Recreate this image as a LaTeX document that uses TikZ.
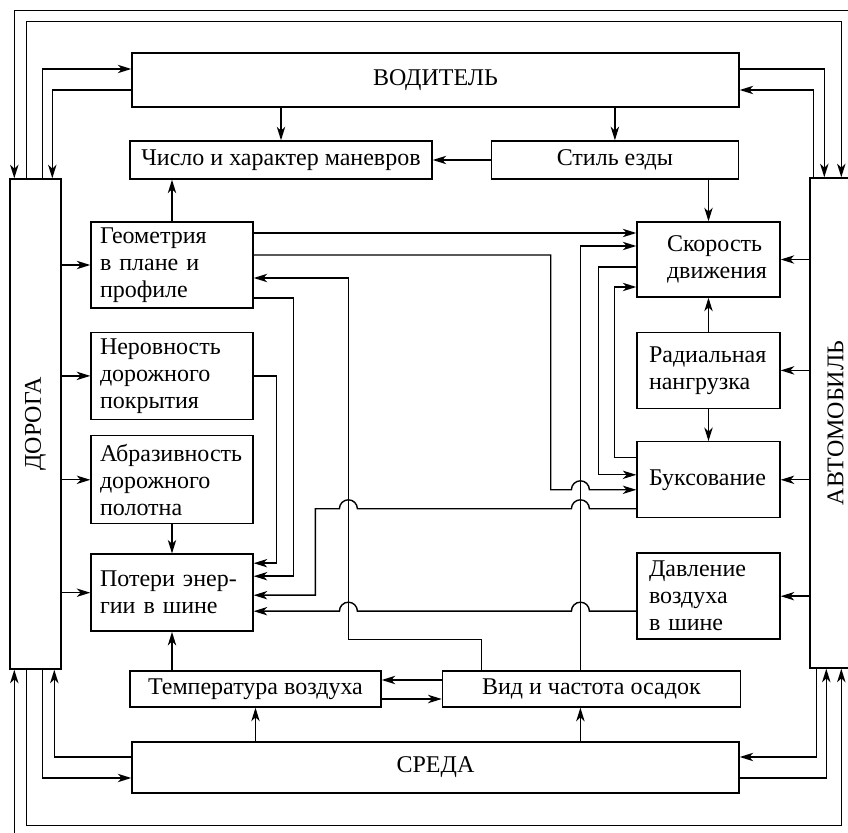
\documentclass[tikz,border=0pt]{standalone}
\usepackage{fontspec}
\setmainfont{Liberation Serif}
\usetikzlibrary{arrows.meta,calc,positioning}

\begin{document}
\begin{tikzpicture}[
    x=0.5pt, y=0.5pt,
    font=\fontsize{12}{13.5}\selectfont,
    line width=0.7pt,
    widebox/.style={draw, align=center, inner sep=2pt},
    leftbox/.style={draw, align=left, text width=72pt, inner xsep=4.5pt, inner ysep=1pt},
    rightbox/.style={draw, align=left, text width=59.5pt, inner xsep=6pt, inner ysep=1pt},
    sidebox/.style={draw, minimum width=25.5pt, minimum height=245pt, inner sep=0pt},
    arrow/.style={-{Stealth[length=6.8pt,width=4.2pt,inset=2pt]}}
]
\useasboundingbox (0,0) rectangle (848,832);
\clip (0,0) rectangle (848,832);

% Driver and environment
\node[widebox, minimum width=303.5pt, minimum height=27pt] (drv) at (435.5,752) {ВОДИТЕЛЬ};
\node[widebox, minimum width=151pt, minimum height=19pt] (num) at (281,672) {Число и характер маневров};
\node[widebox, minimum width=123.5pt, minimum height=19pt, right=29pt of num] (style) {Стиль езды};
\node[widebox, minimum width=125.5pt, minimum height=18pt] (temp) at (255.5,143) {Температура воздуха};
\node[widebox, minimum width=149pt, minimum height=18pt, right=30pt of temp] (rain) {Вид и частота осадок};
\node[widebox, minimum width=303.5pt, minimum height=25.5pt] (env) at (435.5,64.5) {СРЕДА};

% Road and car
\node[sidebox] (road) at (35.5,408) {\rotatebox{90}{ДОРОГА}};
\node[sidebox] (car) at (835.5,409) {\rotatebox{90}{АВТОМОБИЛЬ}};

% Road factors
\node[leftbox, minimum height=43pt] (geo) at (172,567) {Геометрия\\в плане и\\профиле};
\node[leftbox, minimum height=43.5pt, below=11.5pt of geo] (rough) {Неровность\\дорожного\\покрытия};
\node[leftbox, minimum height=44pt, below=7.5pt of rough] (abr) {Абразивность\\дорожного\\полотна};
\node[leftbox, minimum height=38.5pt, below=14.5pt of abr] (loss) {Потери энер-\\гии в шине};

% Car factors
\node[rightbox, minimum height=37.5pt] (speed) at (708.5,572.5) {\hspace*{9pt}Скорость\\\hspace*{9pt}движения};
\node[rightbox, minimum height=38pt, below=17pt of speed] (rad) {Радиальная\\нангрузка};
\node[rightbox, minimum height=38pt, below=16pt of rad] (slip) {Буксование};
\node[rightbox, minimum height=43pt, below=17pt of slip] (press) {Давление\\воздуха\\в шине};

% driver links
\draw[arrow] (num.north |- drv.south) -- (num.north);
\draw[arrow] (style.north |- drv.south) -- (style.north);
\draw[arrow] (style.west) -- (num.east);
\draw[arrow] (speed.north |- style.south) -- (speed.north);
\draw[arrow] (geo.north) -- (geo.north |- num.south);

% road and car inputs
\foreach \n in {geo,rough,abr,loss}
  \draw[arrow] (road.east |- \n.west) -- (\n.west);
\foreach \n in {speed,rad,slip,press}
  \draw[arrow] (car.west |- \n.east) -- (\n.east);

\draw[arrow] (abr.south) -- (loss.north);
\draw[arrow] (temp.north -| loss.south) -- (loss.south);
\draw[arrow] (env.north -| temp.south) -- (temp.south);
\draw[arrow] (rad.north) -- (speed.south);
\draw[arrow] (rad.south) -- (slip.north);

% precipitation
\coordinate (rg) at ($(rain.north)+(-110,0)$);
\coordinate (rs) at ($(rain.north)+(-11,0)$);
\coordinate (rv) at ($(rg)+(-133,31)$);
\draw[arrow] (env.north -| rs) -- (rs |- rain.south);
\draw[arrow] ($(rain.west)+(0,9)$) -- ($(temp.east)+(0,9)$);
\draw[arrow] ($(temp.east)+(0,-10)$) -- ($(rain.west)+(0,-10)$);
\draw[arrow] (rg) |- (rv) |- ($(geo.east)+(0,-13)$);
\draw[arrow] (rs) |- ($(speed.west)+(0,13.5)$);

% geometry
\draw[arrow] ($(geo.east)+(0,32)$) -- ($(speed.west)+(0,26.5)$);
\draw[arrow] ($(geo.east)+(0,10)$) -- ++(297,0) |- ($(rs |- slip.west)+(-9,-10)$)
    arc[start angle=180, end angle=0, radius=4.5pt] -- ($(slip.west)+(0,-10)$);
\draw[arrow] ($(geo.east)+(0,-33)$) -- ++(40,0) |- ($(loss.east)+(0,16.5)$);
\draw[arrow] (rough.east) -- ++(23,0) |- ($(loss.east)+(0,29.5)$);

% slip loops
\draw[arrow] ($(speed.west)+(0,-7.5)$) -- ++(-38,0) |- ($(slip.west)+(0,5)$);
\draw[arrow] ($(slip.west)+(0,22)$) -- ++(-22,0) |- ($(speed.west)+(0,-27.5)$);
\draw[arrow] ($(slip.west)+(0,-29)$) -- ($(rs |- slip.west)+(9,-29)$)
    arc[start angle=0, end angle=180, radius=4.5pt] -- ($(rv |- slip.west)+(9,-29)$)
    arc[start angle=0, end angle=180, radius=4.5pt] -- ++(-24,0) |- ($(loss.east)+(0,-2.5)$);
\draw[arrow] ($(press.west)+(0,-15)$) -- ($(rs |- press.west)+(9,-15)$)
    arc[start angle=0, end angle=180, radius=4.5pt] -- ($(rv |- press.west)+(9,-15)$)
    arc[start angle=0, end angle=180, radius=4.5pt] -- ($(loss.east)+(0,-18.5)$);

% driver, road, car, environment
\draw[arrow] ($(road.north west)+(33,0)$) |- ($(drv.west)+(0,11)$);
\draw[arrow] ($(drv.west)+(0,-10)$) -| ($(road.north west)+(43,0)$);
\draw[arrow] ($(drv.east)+(0,11)$) -| ($(car.north west)+(15,0)$);
\draw[arrow] ($(car.north west)+(4,0)$) |- ($(drv.east)+(0,-10)$);
\draw[arrow] ($(env.west)+(0,10.5)$) -| ($(road.south west)+(45,0)$);
\draw[arrow] ($(road.south west)+(33,0)$) |- ($(env.west)+(0,-10.5)$);
\draw[arrow] ($(car.south west)+(7,0)$) |- ($(env.east)+(0,10.5)$);
\draw[arrow] ($(env.east)+(0,-10.5)$) -| ($(car.south west)+(17,0)$);
\draw[arrow] ($(road.north west)+(17,0)$) -- ++(0,157) -| ($(car.north west)+(32,0)$);
\draw[arrow] ($(road.south west)+(17,0)$) -- ++(0,-156) -| ($(car.south west)+(32,0)$);
\draw[arrow] (car.east) -- ++(12,0) |- ($(road.north west)+(5,168)$) -- ($(road.north west)+(5,0)$);
\draw[arrow] (car.east) -- ++(12,0) |- ($(road.south west)+(5,-175)$) -- ($(road.south west)+(5,0)$);

\end{tikzpicture}
\end{document}
